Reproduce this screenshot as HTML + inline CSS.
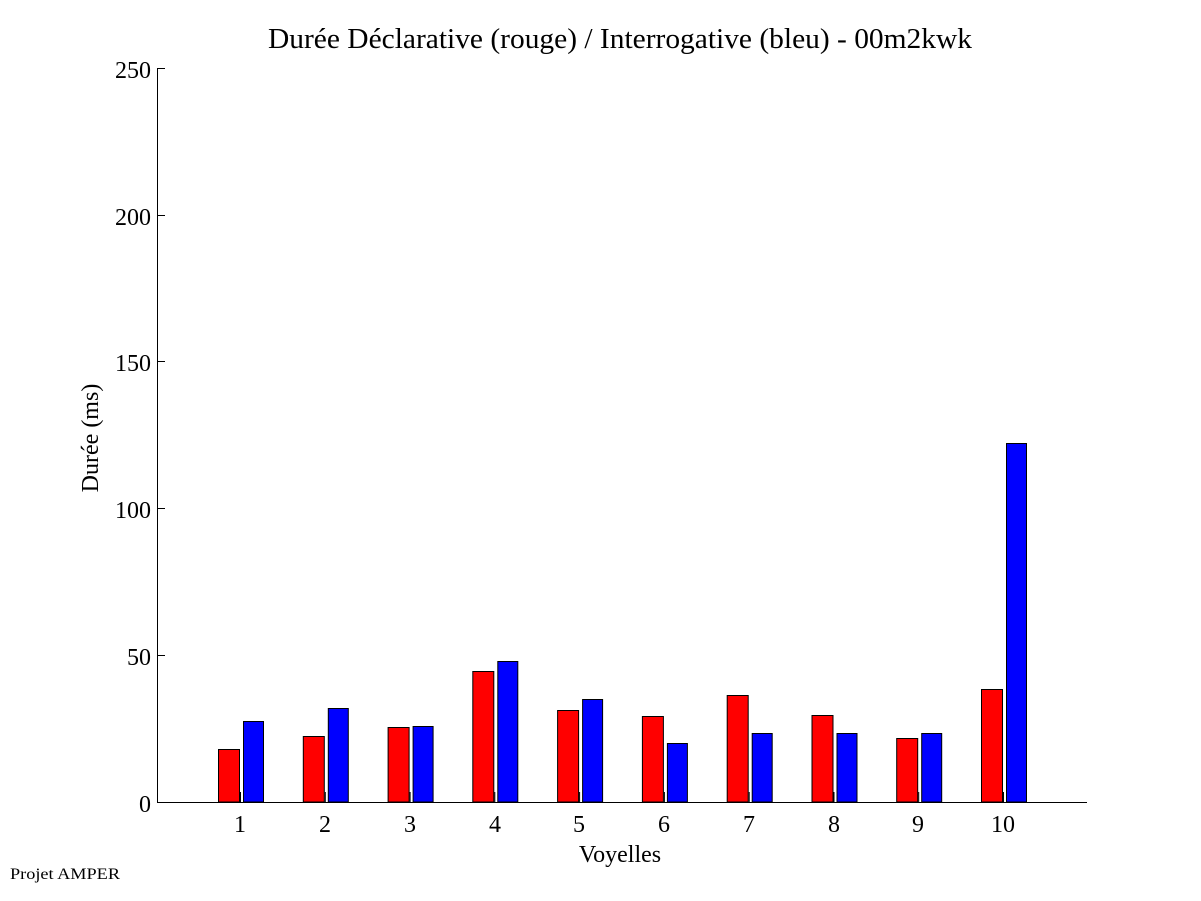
<!DOCTYPE html>
<html><head><meta charset="utf-8"><style>html,body{margin:0;padding:0;background:#fff}svg{display:block}text{font-family:"Liberation Serif",serif;fill:#000}</style></head>
<body>
<svg width="1201" height="901" viewBox="0 0 1201 901" xmlns="http://www.w3.org/2000/svg">
<rect width="1201" height="901" fill="#fff"/>
<text x="620" y="48" font-size="28" text-anchor="middle" textLength="704" lengthAdjust="spacingAndGlyphs">Durée Déclarative (rouge) / Interrogative (bleu) - 00m2kwk</text>
<g stroke="#000" stroke-width="1" fill="none">
<line x1="157.5" y1="68" x2="157.5" y2="802"/>
<line x1="157" y1="802.5" x2="1087" y2="802.5"/>
<line x1="157" y1="68.5" x2="165" y2="68.5"/>
<line x1="157" y1="215.5" x2="165" y2="215.5"/>
<line x1="157" y1="361.5" x2="165" y2="361.5"/>
<line x1="157" y1="508.5" x2="165" y2="508.5"/>
<line x1="157" y1="655.5" x2="165" y2="655.5"/>
</g>
<g font-size="24" text-anchor="end">
<text x="151" y="78">250</text><text x="151" y="225">200</text><text x="151" y="371">150</text><text x="151" y="518">100</text><text x="151" y="665">50</text><text x="151" y="812">0</text>
</g>
<g stroke="#000" stroke-width="1">
<rect x="218.5" y="749.5" width="21" height="52.5" fill="#f00"/><rect x="243.5" y="721.5" width="20" height="80.5" fill="#00f"/>
<rect x="303.3" y="736.5" width="21" height="65.5" fill="#f00"/><rect x="328.3" y="708.5" width="20" height="93.5" fill="#00f"/>
<rect x="388.1" y="727.5" width="21" height="74.5" fill="#f00"/><rect x="413.1" y="726.5" width="20" height="75.5" fill="#00f"/>
<rect x="472.8" y="671.5" width="21" height="130.5" fill="#f00"/><rect x="497.8" y="661.5" width="20" height="140.5" fill="#00f"/>
<rect x="557.6" y="710.5" width="21" height="91.5" fill="#f00"/><rect x="582.6" y="699.5" width="20" height="102.5" fill="#00f"/>
<rect x="642.4" y="716.5" width="21" height="85.5" fill="#f00"/><rect x="667.4" y="743.5" width="20" height="58.5" fill="#00f"/>
<rect x="727.2" y="695.5" width="21" height="106.5" fill="#f00"/><rect x="752.2" y="733.5" width="20" height="68.5" fill="#00f"/>
<rect x="812" y="715.5" width="21" height="86.5" fill="#f00"/><rect x="837" y="733.5" width="20" height="68.5" fill="#00f"/>
<rect x="896.7" y="738.5" width="21" height="63.5" fill="#f00"/><rect x="921.7" y="733.5" width="20" height="68.5" fill="#00f"/>
<rect x="981.5" y="689.5" width="21" height="112.5" fill="#f00"/><rect x="1006.5" y="443.5" width="20" height="358.5" fill="#00f"/>
</g>
<g stroke="#000" stroke-width="1">
<line x1="240.5" y1="792" x2="240.5" y2="802"/><line x1="325.3" y1="792" x2="325.3" y2="802"/><line x1="410.1" y1="792" x2="410.1" y2="802"/><line x1="494.8" y1="792" x2="494.8" y2="802"/><line x1="579.6" y1="792" x2="579.6" y2="802"/><line x1="664.4" y1="792" x2="664.4" y2="802"/><line x1="749.2" y1="792" x2="749.2" y2="802"/><line x1="834" y1="792" x2="834" y2="802"/><line x1="918.7" y1="792" x2="918.7" y2="802"/><line x1="1003.5" y1="792" x2="1003.5" y2="802"/>
</g>
<g font-size="24" text-anchor="middle">
<text x="240" y="832">1</text><text x="325" y="832">2</text><text x="410" y="832">3</text><text x="495" y="832">4</text><text x="579" y="832">5</text><text x="664" y="832">6</text><text x="749" y="832">7</text><text x="834" y="832">8</text><text x="918" y="832">9</text><text x="1003" y="832">10</text>
</g>
<text x="620" y="862" font-size="24" text-anchor="middle">Voyelles</text>
<text transform="translate(98,438) rotate(-90)" font-size="24" text-anchor="middle">Durée (ms)</text>
<text x="10" y="879" font-size="16" textLength="110" lengthAdjust="spacingAndGlyphs">Projet AMPER</text>
</svg>
</body></html>
